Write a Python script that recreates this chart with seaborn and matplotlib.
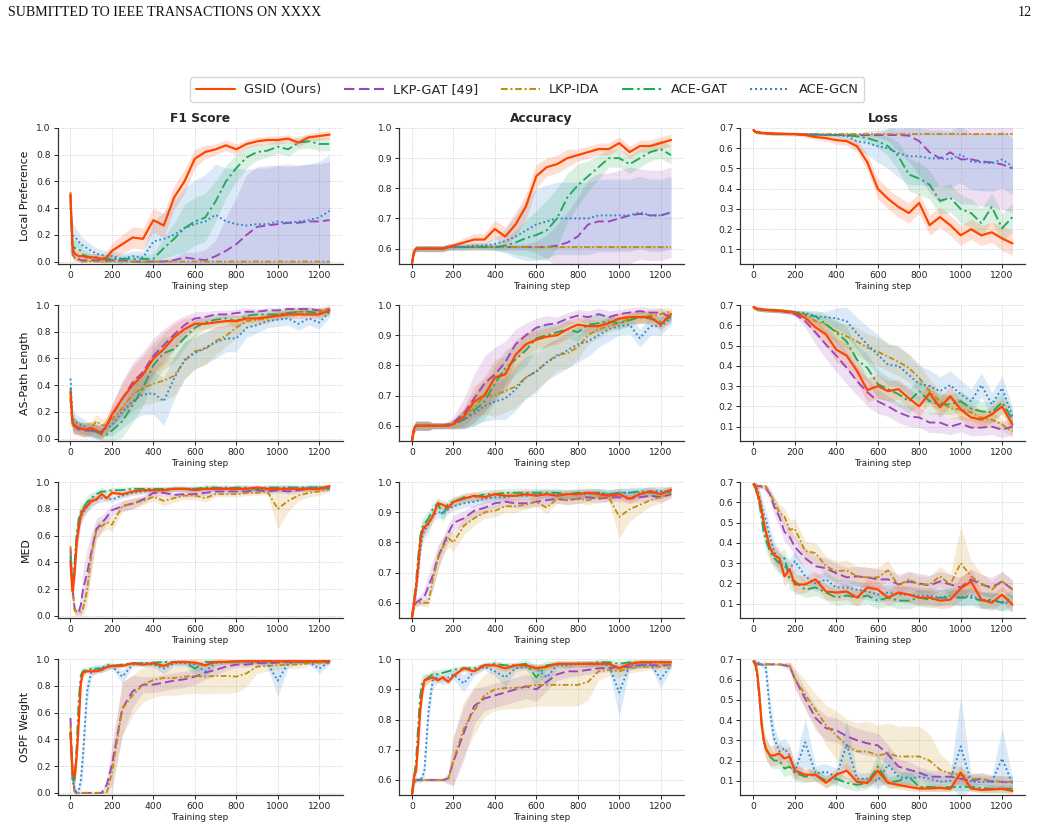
import matplotlib
matplotlib.use("Agg")
import matplotlib.pyplot as plt
import seaborn as sns
import pandas as pd
from matplotlib.lines import Line2D

# ---------------------------------------------------------------- data
STEPS = [0, 10, 20, 30, 40, 50, 60, 80, 100, 125, 150, 175, 200,
         250, 300, 350, 400, 450, 500, 550, 600, 650, 700, 750, 800,
         850, 900, 950, 1000, 1050, 1100, 1150, 1200, 1250]

METHODS = ["GSID (Ours)", "LKP-GAT [49]", "LKP-IDA", "ACE-GAT", "ACE-GCN"]
ROW_LABELS = ["Local Preference", "AS-Path Length", "MED", "OSPF Weight"]
COL_TITLES = ["F1 Score", "Accuracy", "Loss"]
X_TICKS = [0, 200, 400, 600, 800, 1000, 1200]
F1_TICKS = [0.0, 0.2, 0.4, 0.6, 0.8, 1.0]
ACC_TICKS = [0.6, 0.7, 0.8, 0.9, 1.0]
LOSS_TICKS = [0.1, 0.2, 0.3, 0.4, 0.5, 0.6, 0.7]
HEADER_LEFT = "SUBMITTED TO IEEE TRANSACTIONS ON XXXX"
HEADER_RIGHT = "12"
X_LABEL = "Training step"

# ---- Local Preference : F1
lp_f1_gsid = [0.50,0.10,0.06,0.05,0.04,0.04,0.04,0.03,0.03,0.03,0.02,0.03,0.08, 0.13,0.18,0.17,0.31,0.27,0.48,0.60,0.77,0.82,0.84,0.87,0.84,0.88,0.90,0.91,0.91,0.92,0.89,0.93,0.94,0.95]
lp_f1_gsid_sd = [0.03,0.04,0.04,0.04,0.04,0.03,0.03,0.03,0.03,0.03,0.03,0.04,0.06, 0.07,0.08,0.08,0.09,0.09,0.09,0.09,0.07,0.05,0.04,0.04,0.04,0.03,0.03,0.03,0.03,0.03,0.03,0.03,0.03,0.03]
lp_f1_lkpgat = [0.50,0.05,0.03,0.02,0.02,0.01,0.01,0.01,0.01,0.01,0.01,0.01,0.01, 0.01,0.00,0.00,0.00,0.00,0.01,0.03,0.02,0.01,0.04,0.08,0.13,0.20,0.26,0.27,0.28,0.29,0.29,0.30,0.30,0.31]
lp_f1_lkpgat_sd = [0.02,0.03,0.03,0.02,0.02,0.02,0.01,0.01,0.01,0.01,0.01,0.01,0.01, 0.01,0.01,0.01,0.01,0.01,0.02,0.04,0.05,0.08,0.12,0.25,0.35,0.45,0.45,0.45,0.44,0.44,0.43,0.43,0.43,0.44]
lp_f1_lkpida = [0.52,0.06,0.03,0.02,0.01,0.00,0.00,0.00,0.00,0.00,0.00,0.00,0.00, 0.00,0.00,0.00,0.00,0.00,0.00,0.00,0.00,0.00,0.00,0.00,0.00,0.00,0.00,0.00,0.00,0.00,0.00,0.00,0.00,0.00]
lp_f1_lkpida_sd = [0.02,0.03,0.02,0.01,0.01,0.005,0.005,0.005,0.005,0.005,0.005,0.005,0.005, 0.005,0.005,0.005,0.005,0.005,0.005,0.005,0.005,0.005,0.005,0.005,0.005,0.005,0.005,0.005,0.005,0.005,0.005,0.005,0.005,0.005]
lp_f1_acegat = [0.45,0.12,0.10,0.10,0.09,0.08,0.05,0.04,0.03,0.03,0.02,0.02,0.02, 0.02,0.02,0.02,0.02,0.10,0.17,0.25,0.30,0.33,0.45,0.60,0.70,0.78,0.82,0.83,0.86,0.84,0.89,0.90,0.88,0.88]
lp_f1_acegat_sd = [0.05,0.06,0.06,0.06,0.05,0.05,0.04,0.04,0.03,0.03,0.03,0.03,0.03, 0.03,0.03,0.03,0.04,0.08,0.12,0.18,0.18,0.18,0.15,0.12,0.10,0.08,0.06,0.05,0.05,0.05,0.05,0.05,0.05,0.05]
lp_f1_acegcn = [0.40,0.20,0.18,0.17,0.15,0.13,0.12,0.10,0.08,0.06,0.05,0.04,0.04, 0.02,0.04,0.03,0.15,0.17,0.20,0.25,0.28,0.30,0.35,0.30,0.28,0.27,0.28,0.28,0.30,0.29,0.30,0.31,0.33,0.38]
lp_f1_acegcn_sd = [0.06,0.08,0.08,0.07,0.07,0.06,0.06,0.05,0.05,0.04,0.04,0.04,0.04, 0.04,0.04,0.05,0.15,0.20,0.25,0.30,0.33,0.35,0.38,0.40,0.42,0.42,0.42,0.42,0.42,0.42,0.42,0.42,0.42,0.42]

# ---- Local Preference : Accuracy
lp_acc_gsid = [0.55,0.59,0.60,0.60,0.60,0.60,0.60,0.60,0.60,0.60,0.60,0.605,0.61, 0.62,0.63,0.63,0.665,0.64,0.68,0.74,0.84,0.87,0.88,0.90,0.91,0.92,0.93,0.93,0.95,0.92,0.94,0.94,0.95,0.96]
lp_acc_gsid_sd = [0.01,0.01,0.01,0.01,0.01,0.01,0.01,0.01,0.01,0.01,0.01,0.01,0.01, 0.015,0.02,0.02,0.03,0.03,0.04,0.04,0.04,0.03,0.03,0.03,0.02,0.02,0.02,0.02,0.02,0.02,0.02,0.02,0.02,0.02]
lp_acc_lkpgat = [0.55,0.59,0.60,0.60,0.60,0.60,0.60,0.60,0.60,0.60,0.60,0.605,0.605, 0.605,0.605,0.605,0.605,0.605,0.605,0.605,0.605,0.605,0.61,0.62,0.64,0.68,0.69,0.69,0.70,0.71,0.715,0.71,0.71,0.72]
lp_acc_lkpgat_sd = [0.01,0.01,0.01,0.01,0.01,0.01,0.01,0.01,0.01,0.01,0.01,0.01,0.01, 0.01,0.01,0.01,0.01,0.01,0.01,0.01,0.02,0.04,0.07,0.10,0.13,0.15,0.16,0.16,0.16,0.16,0.15,0.15,0.15,0.15]
lp_acc_lkpida = [0.55,0.59,0.60,0.60,0.60,0.60,0.60,0.60,0.60,0.60,0.60,0.605,0.605, 0.605,0.605,0.605,0.605,0.605,0.605,0.605,0.605,0.605,0.605,0.605,0.605,0.605,0.605,0.605,0.605,0.605,0.605,0.605,0.605,0.605]
lp_acc_lkpida_sd = [0.005,0.005,0.005,0.005,0.005,0.005,0.005,0.005,0.005,0.005,0.005,0.005,0.005, 0.005,0.005,0.005,0.005,0.005,0.005,0.005,0.005,0.005,0.005,0.005,0.005,0.005,0.005,0.005,0.005,0.005,0.005,0.005,0.005,0.005]
lp_acc_acegat = [0.55,0.59,0.60,0.60,0.60,0.60,0.60,0.60,0.60,0.60,0.60,0.605,0.605, 0.605,0.605,0.605,0.605,0.61,0.62,0.635,0.645,0.66,0.70,0.77,0.81,0.84,0.87,0.90,0.90,0.88,0.90,0.92,0.93,0.91]
lp_acc_acegat_sd = [0.01,0.01,0.01,0.01,0.01,0.01,0.01,0.01,0.01,0.01,0.01,0.01,0.01, 0.01,0.01,0.01,0.01,0.02,0.04,0.06,0.08,0.10,0.10,0.08,0.07,0.05,0.04,0.03,0.03,0.03,0.03,0.03,0.03,0.03]
lp_acc_acegcn = [0.55,0.59,0.60,0.60,0.60,0.60,0.60,0.60,0.60,0.60,0.60,0.605,0.605, 0.605,0.61,0.61,0.615,0.625,0.64,0.66,0.68,0.69,0.70,0.70,0.70,0.70,0.71,0.71,0.71,0.71,0.72,0.71,0.71,0.72]
lp_acc_acegcn_sd = [0.01,0.01,0.01,0.01,0.01,0.01,0.01,0.01,0.01,0.01,0.01,0.01,0.01, 0.01,0.01,0.01,0.02,0.04,0.07,0.10,0.12,0.12,0.12,0.12,0.12,0.12,0.12,0.12,0.12,0.12,0.12,0.12,0.12,0.12]

# ---- Local Preference : Loss
lp_loss_gsid = [0.69,0.68,0.68,0.678,0.676,0.675,0.675,0.674,0.673,0.672,0.671,0.67,0.67, 0.665,0.655,0.65,0.64,0.635,0.61,0.53,0.40,0.35,0.31,0.28,0.33,0.22,0.26,0.22,0.17,0.20,0.17,0.185,0.155,0.13]
lp_loss_gsid_sd = [0.01,0.01,0.01,0.01,0.01,0.01,0.01,0.01,0.01,0.01,0.01,0.01,0.01, 0.01,0.015,0.015,0.02,0.02,0.03,0.04,0.05,0.05,0.05,0.05,0.05,0.05,0.05,0.05,0.05,0.05,0.05,0.05,0.06,0.06]
lp_loss_lkpgat = [0.69,0.68,0.678,0.676,0.675,0.674,0.673,0.672,0.671,0.67,0.67,0.67,0.67, 0.668,0.667,0.666,0.665,0.665,0.665,0.665,0.665,0.665,0.665,0.662,0.635,0.58,0.55,0.58,0.545,0.545,0.535,0.53,0.52,0.50]
lp_loss_lkpgat_sd = [0.005,0.005,0.005,0.005,0.005,0.005,0.005,0.005,0.005,0.005,0.005,0.005,0.005, 0.005,0.005,0.005,0.005,0.005,0.005,0.005,0.01,0.03,0.08,0.13,0.17,0.20,0.22,0.22,0.22,0.22,0.22,0.22,0.22,0.22]
lp_loss_lkpida = [0.69,0.68,0.678,0.676,0.675,0.674,0.673,0.672,0.671,0.67,0.67,0.67,0.67, 0.67,0.67,0.67,0.67,0.67,0.67,0.67,0.67,0.67,0.67,0.67,0.67,0.67,0.67,0.67,0.67,0.67,0.67,0.67,0.67,0.67]
lp_loss_lkpida_sd = [0.004,0.004,0.004,0.004,0.004,0.004,0.004,0.004,0.004,0.004,0.004,0.004,0.004, 0.004,0.004,0.004,0.004,0.004,0.004,0.004,0.004,0.004,0.004,0.004,0.004,0.004,0.004,0.004,0.004,0.004,0.004,0.004,0.004,0.004]
lp_loss_acegat = [0.69,0.68,0.678,0.676,0.675,0.674,0.673,0.672,0.671,0.67,0.67,0.67,0.67, 0.668,0.667,0.666,0.665,0.663,0.659,0.65,0.634,0.61,0.56,0.47,0.45,0.42,0.34,0.355,0.30,0.28,0.23,0.31,0.205,0.26]
lp_loss_acegat_sd = [0.005,0.005,0.005,0.005,0.005,0.005,0.005,0.005,0.005,0.005,0.005,0.005,0.005, 0.005,0.005,0.005,0.005,0.005,0.01,0.02,0.03,0.05,0.07,0.08,0.08,0.07,0.07,0.07,0.07,0.07,0.07,0.07,0.07,0.07]
lp_loss_acegcn = [0.69,0.68,0.678,0.676,0.675,0.674,0.673,0.672,0.671,0.67,0.67,0.67,0.67, 0.668,0.667,0.666,0.665,0.66,0.634,0.626,0.61,0.60,0.575,0.56,0.56,0.55,0.55,0.545,0.57,0.535,0.53,0.525,0.545,0.51]
lp_loss_acegcn_sd = [0.005,0.005,0.005,0.005,0.005,0.005,0.005,0.005,0.005,0.005,0.005,0.005,0.005, 0.005,0.005,0.005,0.01,0.02,0.04,0.06,0.08,0.10,0.12,0.14,0.14,0.14,0.14,0.14,0.14,0.14,0.14,0.14,0.14,0.14]

# ---- AS-Path Length : F1
asp_f1_gsid = [0.35,0.12,0.10,0.09,0.08,0.08,0.07,0.07,0.08,0.06,0.04,0.10,0.18, 0.30,0.40,0.48,0.60,0.67,0.76,0.82,0.86,0.86,0.87,0.88,0.88,0.90,0.90,0.91,0.92,0.93,0.93,0.93,0.93,0.96]
asp_f1_gsid_sd = [0.05,0.06,0.06,0.05,0.05,0.05,0.05,0.05,0.05,0.05,0.05,0.06,0.08, 0.12,0.14,0.14,0.12,0.12,0.10,0.08,0.05,0.04,0.04,0.04,0.04,0.03,0.03,0.03,0.03,0.03,0.03,0.03,0.03,0.03]
asp_f1_lkpgat = [0.30,0.10,0.09,0.08,0.07,0.07,0.06,0.06,0.06,0.05,0.05,0.10,0.17, 0.30,0.42,0.50,0.62,0.70,0.78,0.85,0.90,0.91,0.93,0.93,0.94,0.95,0.95,0.96,0.96,0.97,0.97,0.97,0.96,0.97]
asp_f1_lkpgat_sd = [0.05,0.06,0.06,0.05,0.05,0.05,0.05,0.05,0.05,0.05,0.05,0.06,0.08, 0.13,0.15,0.15,0.13,0.12,0.10,0.07,0.05,0.04,0.03,0.03,0.03,0.03,0.02,0.02,0.02,0.02,0.02,0.02,0.02,0.02]
asp_f1_lkpida = [0.30,0.10,0.09,0.08,0.08,0.07,0.07,0.07,0.08,0.13,0.10,0.10,0.14, 0.23,0.33,0.38,0.41,0.435,0.47,0.58,0.655,0.67,0.73,0.77,0.83,0.88,0.89,0.90,0.93,0.94,0.95,0.95,0.95,0.97]
asp_f1_lkpida_sd = [0.05,0.06,0.06,0.05,0.05,0.05,0.05,0.05,0.05,0.05,0.05,0.06,0.08, 0.10,0.12,0.13,0.14,0.15,0.15,0.14,0.13,0.12,0.10,0.08,0.07,0.05,0.04,0.04,0.03,0.03,0.03,0.03,0.03,0.03]
asp_f1_acegat = [0.38,0.12,0.10,0.09,0.08,0.08,0.07,0.07,0.06,0.05,0.03,0.03,0.06, 0.13,0.25,0.38,0.55,0.64,0.67,0.755,0.83,0.87,0.89,0.90,0.88,0.92,0.93,0.93,0.93,0.94,0.95,0.95,0.94,0.95]
asp_f1_acegat_sd = [0.05,0.06,0.06,0.05,0.05,0.05,0.05,0.05,0.05,0.05,0.05,0.06,0.08, 0.12,0.13,0.13,0.13,0.12,0.10,0.08,0.06,0.05,0.04,0.04,0.04,0.03,0.03,0.03,0.03,0.03,0.03,0.03,0.03,0.03]
asp_f1_acegcn = [0.45,0.15,0.13,0.12,0.11,0.10,0.10,0.08,0.07,0.06,0.06,0.08,0.10, 0.20,0.28,0.33,0.34,0.28,0.45,0.59,0.64,0.68,0.72,0.75,0.75,0.83,0.85,0.88,0.89,0.90,0.86,0.90,0.87,0.95]
asp_f1_acegcn_sd = [0.06,0.07,0.07,0.06,0.06,0.06,0.05,0.05,0.05,0.05,0.05,0.06,0.08, 0.12,0.14,0.15,0.16,0.18,0.16,0.14,0.12,0.12,0.12,0.10,0.10,0.07,0.06,0.05,0.05,0.05,0.05,0.05,0.05,0.04]

# ---- AS-Path Length : Accuracy
asp_acc_gsid = [0.55,0.59,0.60,0.60,0.60,0.60,0.60,0.60,0.60,0.60,0.60,0.60,0.605, 0.63,0.68,0.70,0.76,0.77,0.835,0.87,0.885,0.895,0.90,0.92,0.935,0.93,0.93,0.94,0.955,0.96,0.96,0.96,0.935,0.97]
asp_acc_gsid_sd = [0.015,0.015,0.015,0.015,0.015,0.015,0.015,0.015,0.01,0.01,0.01,0.01,0.015, 0.03,0.05,0.06,0.06,0.06,0.05,0.04,0.03,0.03,0.03,0.03,0.025,0.025,0.02,0.02,0.02,0.02,0.02,0.02,0.02,0.02]
asp_acc_lkpgat = [0.55,0.59,0.60,0.60,0.60,0.60,0.60,0.60,0.60,0.60,0.60,0.605,0.61, 0.64,0.69,0.74,0.77,0.81,0.87,0.90,0.925,0.935,0.94,0.955,0.965,0.96,0.97,0.96,0.97,0.975,0.98,0.975,0.975,0.96]
asp_acc_lkpgat_sd = [0.015,0.015,0.015,0.015,0.015,0.015,0.015,0.015,0.01,0.01,0.01,0.01,0.02, 0.05,0.08,0.09,0.09,0.07,0.05,0.04,0.03,0.03,0.02,0.02,0.02,0.02,0.02,0.02,0.015,0.015,0.015,0.015,0.015,0.015]
asp_acc_lkpida = [0.55,0.59,0.60,0.60,0.60,0.60,0.60,0.60,0.60,0.60,0.60,0.60,0.605, 0.625,0.66,0.70,0.70,0.715,0.73,0.76,0.78,0.81,0.835,0.84,0.86,0.90,0.92,0.93,0.94,0.955,0.96,0.965,0.97,0.98]
asp_acc_lkpida_sd = [0.015,0.015,0.015,0.015,0.015,0.015,0.015,0.015,0.01,0.01,0.01,0.01,0.015, 0.03,0.05,0.06,0.07,0.07,0.07,0.07,0.06,0.06,0.05,0.05,0.04,0.03,0.03,0.02,0.02,0.02,0.02,0.02,0.02,0.01]
asp_acc_acegat = [0.55,0.59,0.60,0.60,0.60,0.60,0.60,0.60,0.60,0.60,0.60,0.60,0.605, 0.62,0.65,0.68,0.74,0.79,0.82,0.85,0.89,0.90,0.91,0.92,0.91,0.935,0.94,0.945,0.94,0.95,0.96,0.955,0.945,0.96]
asp_acc_acegat_sd = [0.015,0.015,0.015,0.015,0.015,0.015,0.015,0.015,0.01,0.01,0.01,0.01,0.015, 0.03,0.05,0.06,0.06,0.06,0.05,0.05,0.04,0.04,0.03,0.03,0.03,0.03,0.03,0.02,0.02,0.02,0.02,0.02,0.02,0.02]
asp_acc_acegcn = [0.55,0.59,0.60,0.60,0.60,0.60,0.60,0.60,0.60,0.60,0.60,0.60,0.605, 0.62,0.64,0.665,0.68,0.69,0.72,0.76,0.78,0.81,0.83,0.85,0.87,0.88,0.90,0.92,0.93,0.935,0.89,0.93,0.93,0.955]
asp_acc_acegcn_sd = [0.015,0.015,0.015,0.015,0.015,0.015,0.015,0.015,0.01,0.01,0.01,0.01,0.015, 0.03,0.04,0.05,0.06,0.07,0.07,0.07,0.07,0.06,0.06,0.06,0.06,0.05,0.04,0.04,0.03,0.03,0.03,0.03,0.03,0.02]

# ---- AS-Path Length : Loss
asp_loss_gsid = [0.69,0.685,0.68,0.68,0.678,0.677,0.676,0.675,0.674,0.672,0.67,0.667,0.662, 0.637,0.59,0.555,0.48,0.45,0.375,0.28,0.30,0.275,0.285,0.24,0.20,0.265,0.195,0.25,0.185,0.145,0.135,0.16,0.20,0.11]
asp_loss_gsid_sd = [0.01,0.01,0.01,0.01,0.01,0.01,0.01,0.01,0.01,0.01,0.01,0.01,0.01, 0.02,0.04,0.05,0.06,0.06,0.06,0.06,0.06,0.05,0.05,0.05,0.05,0.05,0.05,0.05,0.05,0.05,0.04,0.04,0.04,0.04]
asp_loss_lkpgat = [0.69,0.685,0.68,0.68,0.678,0.677,0.676,0.675,0.674,0.672,0.668,0.662,0.655, 0.62,0.565,0.505,0.45,0.39,0.325,0.27,0.225,0.20,0.17,0.15,0.145,0.12,0.12,0.10,0.115,0.095,0.095,0.10,0.085,0.10]
asp_loss_lkpgat_sd = [0.01,0.01,0.01,0.01,0.01,0.01,0.01,0.01,0.01,0.01,0.01,0.01,0.01, 0.03,0.06,0.07,0.08,0.08,0.07,0.07,0.06,0.05,0.05,0.05,0.05,0.05,0.05,0.04,0.04,0.04,0.04,0.04,0.04,0.04]
asp_loss_lkpida = [0.69,0.685,0.68,0.68,0.678,0.677,0.676,0.675,0.674,0.672,0.67,0.667,0.665, 0.655,0.62,0.605,0.57,0.545,0.52,0.49,0.47,0.445,0.42,0.39,0.34,0.275,0.225,0.19,0.185,0.17,0.145,0.135,0.11,0.075]
asp_loss_lkpida_sd = [0.01,0.01,0.01,0.01,0.01,0.01,0.01,0.01,0.01,0.01,0.01,0.01,0.01, 0.02,0.03,0.04,0.05,0.06,0.07,0.07,0.07,0.07,0.07,0.07,0.07,0.06,0.05,0.05,0.05,0.04,0.04,0.04,0.03,0.03]
asp_loss_acegat = [0.69,0.685,0.68,0.68,0.678,0.677,0.676,0.675,0.674,0.672,0.67,0.668,0.665, 0.65,0.645,0.605,0.565,0.52,0.43,0.39,0.31,0.285,0.26,0.225,0.275,0.225,0.21,0.21,0.225,0.19,0.175,0.17,0.22,0.135]
asp_loss_acegat_sd = [0.01,0.01,0.01,0.01,0.01,0.01,0.01,0.01,0.01,0.01,0.01,0.01,0.01, 0.02,0.03,0.05,0.06,0.07,0.07,0.07,0.07,0.06,0.06,0.06,0.06,0.06,0.05,0.05,0.05,0.05,0.05,0.05,0.05,0.05]
asp_loss_acegcn = [0.69,0.685,0.68,0.68,0.678,0.677,0.676,0.675,0.674,0.672,0.67,0.668,0.665, 0.66,0.645,0.64,0.635,0.62,0.56,0.505,0.455,0.405,0.40,0.355,0.31,0.30,0.275,0.305,0.26,0.225,0.305,0.21,0.29,0.15]
asp_loss_acegcn_sd = [0.01,0.01,0.01,0.01,0.01,0.01,0.01,0.01,0.01,0.01,0.01,0.01,0.01, 0.01,0.02,0.03,0.05,0.07,0.08,0.09,0.10,0.10,0.10,0.10,0.09,0.08,0.07,0.07,0.07,0.06,0.06,0.06,0.06,0.05]

# ---- MED : F1
med_f1_gsid = [0.40,0.18,0.32,0.55,0.66,0.75,0.79,0.82,0.86,0.87,0.91,0.88,0.92, 0.91,0.93,0.94,0.94,0.94,0.95,0.95,0.94,0.95,0.95,0.95,0.95,0.95,0.96,0.95,0.95,0.95,0.95,0.95,0.95,0.97]
med_f1_gsid_sd = [0.05,0.08,0.10,0.10,0.08,0.06,0.05,0.04,0.04,0.03,0.03,0.03,0.02, 0.02,0.02,0.02,0.02,0.02,0.02,0.02,0.02,0.02,0.02,0.02,0.02,0.02,0.02,0.02,0.02,0.02,0.02,0.02,0.02,0.02]
med_f1_lkpgat = [0.50,0.20,0.05,0.02,0.03,0.08,0.19,0.32,0.47,0.65,0.69,0.74,0.79, 0.82,0.84,0.87,0.92,0.92,0.905,0.91,0.91,0.92,0.93,0.93,0.93,0.93,0.94,0.93,0.94,0.93,0.94,0.95,0.95,0.96]
med_f1_lkpgat_sd = [0.03,0.05,0.04,0.02,0.03,0.08,0.15,0.18,0.15,0.08,0.06,0.05,0.04, 0.04,0.04,0.03,0.03,0.02,0.02,0.02,0.02,0.02,0.02,0.02,0.02,0.02,0.02,0.02,0.02,0.02,0.02,0.02,0.02,0.02]
med_f1_lkpida = [0.52,0.20,0.04,0.03,0.03,0.03,0.05,0.19,0.45,0.64,0.67,0.70,0.68, 0.82,0.84,0.86,0.89,0.86,0.88,0.90,0.90,0.88,0.91,0.91,0.91,0.92,0.92,0.93,0.80,0.86,0.90,0.92,0.93,0.95]
med_f1_lkpida_sd = [0.03,0.05,0.04,0.02,0.02,0.03,0.06,0.12,0.12,0.06,0.05,0.05,0.05, 0.04,0.04,0.03,0.03,0.04,0.03,0.03,0.03,0.03,0.02,0.02,0.02,0.02,0.02,0.02,0.15,0.08,0.04,0.03,0.03,0.02]
med_f1_acegat = [0.45,0.20,0.40,0.62,0.72,0.78,0.80,0.85,0.88,0.91,0.93,0.93,0.94, 0.94,0.95,0.95,0.95,0.95,0.95,0.95,0.95,0.96,0.96,0.95,0.96,0.96,0.95,0.96,0.96,0.96,0.96,0.96,0.96,0.96]
med_f1_acegat_sd = [0.05,0.08,0.10,0.10,0.08,0.06,0.05,0.05,0.04,0.03,0.03,0.02,0.02, 0.02,0.02,0.02,0.02,0.02,0.02,0.02,0.02,0.02,0.02,0.02,0.02,0.02,0.02,0.02,0.02,0.02,0.02,0.02,0.02,0.02]
med_f1_acegcn = [0.42,0.20,0.38,0.58,0.68,0.74,0.77,0.82,0.85,0.87,0.88,0.88,0.87, 0.90,0.92,0.93,0.94,0.94,0.95,0.95,0.95,0.95,0.95,0.96,0.95,0.95,0.95,0.95,0.95,0.96,0.95,0.96,0.96,0.95]
med_f1_acegcn_sd = [0.05,0.08,0.10,0.10,0.08,0.06,0.05,0.05,0.04,0.03,0.03,0.02,0.02, 0.02,0.02,0.02,0.02,0.02,0.02,0.02,0.02,0.02,0.02,0.02,0.02,0.02,0.02,0.02,0.02,0.02,0.02,0.02,0.02,0.02]

# ---- MED : Accuracy
med_acc_gsid = [0.55,0.60,0.65,0.72,0.80,0.84,0.85,0.865,0.885,0.93,0.925,0.915,0.935, 0.945,0.955,0.95,0.96,0.955,0.955,0.96,0.955,0.96,0.955,0.96,0.96,0.965,0.96,0.955,0.96,0.945,0.96,0.97,0.96,0.975]
med_acc_gsid_sd = [0.01,0.02,0.03,0.03,0.03,0.03,0.025,0.02,0.02,0.015,0.015,0.015,0.015, 0.015,0.015,0.015,0.015,0.015,0.015,0.015,0.015,0.015,0.015,0.015,0.015,0.015,0.015,0.015,0.015,0.015,0.015,0.015,0.015,0.015]
med_acc_lkpgat = [0.55,0.59,0.60,0.605,0.61,0.615,0.62,0.655,0.69,0.75,0.79,0.83,0.865, 0.88,0.905,0.915,0.93,0.935,0.93,0.93,0.935,0.94,0.945,0.94,0.945,0.95,0.945,0.95,0.95,0.945,0.95,0.955,0.95,0.96]
med_acc_lkpgat_sd = [0.01,0.015,0.015,0.015,0.015,0.02,0.03,0.04,0.05,0.04,0.03,0.03,0.025, 0.025,0.02,0.02,0.015,0.015,0.015,0.015,0.015,0.015,0.015,0.015,0.015,0.015,0.015,0.015,0.015,0.015,0.015,0.015,0.015,0.015]
med_acc_lkpida = [0.55,0.60,0.60,0.60,0.60,0.60,0.60,0.60,0.675,0.745,0.785,0.815,0.80, 0.855,0.88,0.90,0.905,0.92,0.92,0.925,0.935,0.915,0.945,0.94,0.945,0.94,0.95,0.95,0.885,0.91,0.925,0.94,0.95,0.965]
med_acc_lkpida_sd = [0.01,0.01,0.01,0.01,0.01,0.01,0.01,0.015,0.03,0.04,0.03,0.03,0.03, 0.03,0.025,0.02,0.02,0.02,0.02,0.015,0.015,0.02,0.015,0.015,0.015,0.015,0.015,0.015,0.07,0.04,0.03,0.02,0.02,0.015]
med_acc_acegat = [0.55,0.61,0.67,0.75,0.82,0.85,0.86,0.88,0.91,0.93,0.89,0.93,0.935, 0.95,0.95,0.96,0.96,0.965,0.965,0.965,0.965,0.965,0.965,0.96,0.965,0.965,0.965,0.96,0.965,0.965,0.97,0.965,0.965,0.97]
med_acc_acegat_sd = [0.01,0.02,0.03,0.03,0.03,0.03,0.03,0.025,0.02,0.02,0.025,0.015,0.015, 0.015,0.015,0.015,0.015,0.015,0.015,0.015,0.015,0.015,0.015,0.015,0.015,0.015,0.015,0.015,0.015,0.015,0.015,0.015,0.015,0.015]
med_acc_acegcn = [0.55,0.60,0.64,0.70,0.77,0.82,0.84,0.86,0.89,0.90,0.90,0.91,0.92, 0.93,0.935,0.945,0.95,0.95,0.955,0.955,0.96,0.96,0.96,0.96,0.96,0.96,0.965,0.96,0.965,0.965,0.965,0.97,0.97,0.97]
med_acc_acegcn_sd = [0.01,0.02,0.03,0.03,0.03,0.03,0.03,0.025,0.02,0.02,0.02,0.015,0.015, 0.015,0.015,0.015,0.015,0.015,0.015,0.015,0.015,0.015,0.015,0.015,0.015,0.015,0.015,0.015,0.015,0.015,0.015,0.015,0.015,0.015]

# ---- MED : Loss
med_loss_gsid = [0.69,0.68,0.64,0.61,0.56,0.50,0.455,0.375,0.34,0.325,0.235,0.27,0.195, 0.195,0.22,0.16,0.155,0.16,0.13,0.18,0.17,0.13,0.155,0.145,0.13,0.13,0.115,0.12,0.175,0.21,0.12,0.105,0.145,0.095]
med_loss_gsid_sd = [0.01,0.02,0.04,0.05,0.05,0.05,0.05,0.05,0.05,0.05,0.05,0.05,0.05, 0.04,0.04,0.04,0.04,0.04,0.04,0.04,0.04,0.04,0.04,0.04,0.04,0.04,0.04,0.04,0.06,0.06,0.04,0.04,0.04,0.04]
med_loss_lkpgat = [0.69,0.685,0.68,0.68,0.68,0.675,0.67,0.64,0.58,0.53,0.455,0.43,0.38, 0.325,0.285,0.275,0.25,0.23,0.235,0.23,0.22,0.22,0.195,0.21,0.20,0.19,0.21,0.195,0.18,0.22,0.195,0.18,0.21,0.17]
med_loss_lkpgat_sd = [0.01,0.01,0.01,0.01,0.01,0.01,0.02,0.03,0.04,0.05,0.05,0.05,0.05, 0.05,0.05,0.05,0.05,0.05,0.05,0.05,0.05,0.05,0.05,0.05,0.05,0.05,0.05,0.05,0.05,0.05,0.05,0.05,0.05,0.05]
med_loss_lkpida = [0.69,0.685,0.68,0.68,0.675,0.675,0.68,0.645,0.605,0.55,0.53,0.465,0.47, 0.36,0.35,0.285,0.26,0.265,0.235,0.23,0.23,0.265,0.19,0.22,0.195,0.195,0.235,0.195,0.30,0.235,0.20,0.17,0.21,0.17]
med_loss_lkpida_sd = [0.01,0.01,0.01,0.01,0.01,0.01,0.01,0.02,0.03,0.04,0.04,0.05,0.05, 0.05,0.05,0.05,0.05,0.05,0.05,0.05,0.05,0.05,0.04,0.04,0.04,0.04,0.05,0.05,0.18,0.08,0.05,0.04,0.05,0.04]
med_loss_acegat = [0.69,0.67,0.63,0.59,0.52,0.45,0.415,0.36,0.325,0.30,0.325,0.22,0.21, 0.17,0.18,0.155,0.13,0.14,0.13,0.14,0.115,0.13,0.115,0.115,0.13,0.12,0.13,0.13,0.13,0.13,0.115,0.12,0.105,0.13]
med_loss_acegat_sd = [0.01,0.02,0.04,0.05,0.05,0.05,0.05,0.05,0.05,0.05,0.05,0.05,0.05, 0.04,0.04,0.04,0.04,0.04,0.04,0.04,0.04,0.04,0.04,0.04,0.04,0.04,0.04,0.04,0.04,0.04,0.04,0.04,0.04,0.04]
med_loss_acegcn = [0.69,0.68,0.66,0.62,0.58,0.54,0.515,0.43,0.36,0.30,0.285,0.27,0.31, 0.235,0.20,0.22,0.18,0.18,0.17,0.16,0.145,0.155,0.145,0.145,0.14,0.14,0.13,0.14,0.13,0.14,0.12,0.115,0.105,0.105]
med_loss_acegcn_sd = [0.01,0.02,0.03,0.04,0.05,0.05,0.05,0.05,0.05,0.05,0.05,0.05,0.05, 0.04,0.04,0.04,0.04,0.04,0.04,0.04,0.04,0.04,0.04,0.04,0.04,0.04,0.04,0.04,0.04,0.04,0.04,0.04,0.04,0.04]

# ---- OSPF Weight : F1
ospf_f1_gsid = [0.45,0.16,0.12,0.28,0.53,0.82,0.90,0.91,0.91,0.91,0.92,0.94,0.95, 0.95,0.97,0.96,0.97,0.95,0.98,0.98,0.975,0.955,0.98,0.98,0.985,0.985,0.985,0.985,0.985,0.985,0.985,0.985,0.985,0.985]
ospf_f1_gsid_sd = [0.05,0.06,0.08,0.12,0.12,0.06,0.03,0.02,0.02,0.02,0.02,0.02,0.02, 0.015,0.015,0.015,0.015,0.015,0.015,0.015,0.015,0.015,0.015,0.015,0.015,0.015,0.015,0.015,0.015,0.015,0.015,0.015,0.015,0.015]
ospf_f1_lkpgat = [0.56,0.12,0.01,0.00,0.00,0.00,0.00,0.00,0.00,0.00,0.00,0.06,0.21, 0.63,0.76,0.81,0.81,0.825,0.84,0.85,0.87,0.90,0.92,0.945,0.96,0.96,0.97,0.97,0.975,0.98,0.98,0.98,0.98,0.98]
ospf_f1_lkpgat_sd = [0.03,0.05,0.01,0.005,0.005,0.005,0.005,0.005,0.005,0.005,0.005,0.05,0.15, 0.20,0.12,0.06,0.06,0.06,0.06,0.06,0.06,0.05,0.04,0.03,0.02,0.02,0.015,0.015,0.015,0.015,0.015,0.015,0.015,0.015]
ospf_f1_lkpida = [0.50,0.10,0.01,0.00,0.00,0.00,0.00,0.00,0.00,0.00,0.00,0.00,0.15, 0.63,0.73,0.81,0.845,0.86,0.86,0.87,0.875,0.87,0.875,0.875,0.87,0.895,0.945,0.95,0.955,0.96,0.96,0.97,0.975,0.98]
ospf_f1_lkpida_sd = [0.03,0.05,0.01,0.005,0.005,0.005,0.005,0.005,0.005,0.005,0.005,0.005,0.15, 0.20,0.15,0.13,0.13,0.13,0.13,0.13,0.13,0.13,0.13,0.13,0.12,0.10,0.05,0.04,0.03,0.03,0.03,0.02,0.02,0.015]
ospf_f1_acegat = [0.45,0.15,0.08,0.35,0.70,0.88,0.91,0.92,0.93,0.93,0.93,0.96,0.95, 0.96,0.97,0.97,0.975,0.98,0.98,0.98,0.93,0.98,0.98,0.98,0.985,0.985,0.985,0.985,0.985,0.985,0.985,0.985,0.985,0.985]
ospf_f1_acegat_sd = [0.05,0.06,0.08,0.12,0.10,0.05,0.03,0.02,0.02,0.02,0.02,0.02,0.02, 0.015,0.015,0.015,0.015,0.015,0.015,0.015,0.05,0.015,0.015,0.015,0.015,0.015,0.015,0.015,0.015,0.015,0.015,0.015,0.015,0.015]
ospf_f1_acegcn = [0.45,0.10,0.02,0.01,0.02,0.10,0.28,0.76,0.90,0.93,0.93,0.94,0.95, 0.87,0.96,0.97,0.96,0.93,0.97,0.97,0.96,0.91,0.97,0.98,0.98,0.98,0.98,0.97,0.84,0.97,0.98,0.98,0.93,0.98]
ospf_f1_acegcn_sd = [0.06,0.06,0.04,0.02,0.03,0.08,0.15,0.10,0.04,0.03,0.03,0.03,0.02, 0.05,0.02,0.02,0.02,0.04,0.02,0.02,0.03,0.05,0.02,0.015,0.015,0.015,0.015,0.03,0.12,0.03,0.015,0.015,0.04,0.015]

# ---- OSPF Weight : Accuracy
ospf_acc_gsid = [0.55,0.61,0.63,0.72,0.83,0.89,0.93,0.935,0.94,0.93,0.94,0.925,0.945, 0.97,0.96,0.98,0.98,0.97,0.98,0.98,0.97,0.975,0.985,0.985,0.985,0.985,0.985,0.985,0.97,0.985,0.99,0.99,0.99,0.99]
ospf_acc_gsid_sd = [0.01,0.02,0.03,0.04,0.04,0.03,0.02,0.015,0.01,0.01,0.01,0.01,0.01, 0.01,0.01,0.01,0.01,0.01,0.01,0.01,0.01,0.01,0.01,0.01,0.01,0.01,0.01,0.01,0.01,0.01,0.01,0.01,0.01,0.01]
ospf_acc_lkpgat = [0.55,0.59,0.60,0.60,0.60,0.60,0.60,0.60,0.60,0.60,0.60,0.605,0.66, 0.755,0.845,0.87,0.88,0.89,0.90,0.91,0.90,0.925,0.95,0.96,0.96,0.965,0.97,0.97,0.975,0.975,0.98,0.98,0.98,0.98]
ospf_acc_lkpgat_sd = [0.01,0.01,0.005,0.005,0.005,0.005,0.005,0.005,0.005,0.005,0.005,0.02,0.08, 0.09,0.06,0.04,0.04,0.04,0.04,0.04,0.04,0.03,0.02,0.02,0.015,0.015,0.015,0.01,0.01,0.01,0.01,0.01,0.01,0.01]
ospf_acc_lkpida = [0.55,0.59,0.60,0.60,0.60,0.60,0.60,0.60,0.60,0.60,0.60,0.60,0.665, 0.77,0.83,0.88,0.90,0.905,0.905,0.91,0.915,0.915,0.915,0.915,0.915,0.925,0.96,0.965,0.96,0.97,0.975,0.975,0.975,0.98]
ospf_acc_lkpida_sd = [0.01,0.01,0.005,0.005,0.005,0.005,0.005,0.005,0.005,0.005,0.005,0.01,0.08, 0.09,0.08,0.07,0.07,0.07,0.07,0.07,0.07,0.07,0.07,0.07,0.07,0.06,0.03,0.02,0.02,0.015,0.015,0.01,0.01,0.01]
ospf_acc_acegat = [0.55,0.61,0.66,0.78,0.88,0.92,0.93,0.94,0.95,0.95,0.955,0.96,0.965, 0.97,0.97,0.98,0.985,0.98,0.98,0.985,0.94,0.98,0.985,0.985,0.985,0.985,0.99,0.99,0.985,0.99,0.99,0.99,0.99,0.99]
ospf_acc_acegat_sd = [0.01,0.02,0.03,0.04,0.04,0.03,0.02,0.015,0.015,0.015,0.015,0.01,0.01, 0.01,0.01,0.01,0.01,0.01,0.01,0.015,0.04,0.015,0.01,0.01,0.01,0.01,0.01,0.01,0.01,0.01,0.01,0.01,0.01,0.01]
ospf_acc_acegcn = [0.55,0.60,0.60,0.60,0.60,0.61,0.63,0.83,0.93,0.94,0.93,0.94,0.95, 0.92,0.96,0.975,0.96,0.94,0.97,0.975,0.97,0.94,0.98,0.98,0.985,0.985,0.985,0.98,0.89,0.98,0.98,0.985,0.935,0.98]
ospf_acc_acegcn_sd = [0.01,0.01,0.01,0.01,0.01,0.015,0.03,0.05,0.03,0.015,0.015,0.015,0.015, 0.03,0.015,0.01,0.015,0.03,0.01,0.01,0.015,0.03,0.01,0.01,0.01,0.01,0.01,0.015,0.08,0.015,0.01,0.01,0.03,0.01]

# ---- OSPF Weight : Loss
ospf_loss_gsid = [0.69,0.68,0.62,0.51,0.375,0.30,0.26,0.225,0.225,0.235,0.21,0.22,0.15, 0.13,0.13,0.09,0.13,0.15,0.095,0.09,0.15,0.09,0.08,0.07,0.062,0.062,0.065,0.06,0.14,0.062,0.055,0.057,0.06,0.05]
ospf_loss_gsid_sd = [0.01,0.02,0.04,0.05,0.05,0.05,0.05,0.05,0.05,0.05,0.05,0.05,0.04, 0.03,0.03,0.03,0.03,0.04,0.03,0.02,0.04,0.02,0.02,0.02,0.015,0.015,0.015,0.015,0.04,0.015,0.015,0.015,0.015,0.015]
ospf_loss_lkpgat = [0.69,0.68,0.675,0.675,0.675,0.675,0.675,0.675,0.675,0.675,0.67,0.665,0.605, 0.505,0.41,0.36,0.35,0.32,0.30,0.285,0.275,0.23,0.17,0.155,0.14,0.12,0.12,0.12,0.11,0.10,0.11,0.095,0.095,0.09]
ospf_loss_lkpgat_sd = [0.005,0.005,0.005,0.005,0.005,0.005,0.005,0.005,0.005,0.005,0.01,0.02,0.04, 0.05,0.06,0.06,0.06,0.06,0.06,0.06,0.06,0.05,0.04,0.04,0.03,0.03,0.03,0.03,0.03,0.03,0.03,0.03,0.03,0.03]
ospf_loss_lkpida = [0.69,0.68,0.675,0.675,0.675,0.675,0.675,0.675,0.675,0.675,0.675,0.67,0.605, 0.525,0.45,0.375,0.325,0.275,0.245,0.245,0.225,0.235,0.22,0.22,0.22,0.20,0.155,0.135,0.13,0.11,0.11,0.10,0.095,0.095]
ospf_loss_lkpida_sd = [0.005,0.005,0.005,0.005,0.005,0.005,0.005,0.005,0.005,0.005,0.005,0.02,0.05, 0.07,0.08,0.10,0.12,0.13,0.14,0.15,0.15,0.15,0.15,0.15,0.15,0.13,0.08,0.05,0.04,0.03,0.03,0.03,0.03,0.03]
ospf_loss_acegat = [0.69,0.67,0.60,0.50,0.38,0.30,0.26,0.22,0.20,0.20,0.16,0.17,0.14, 0.12,0.13,0.10,0.11,0.09,0.08,0.09,0.17,0.09,0.10,0.12,0.07,0.07,0.065,0.07,0.07,0.07,0.065,0.06,0.06,0.06]
ospf_loss_acegat_sd = [0.01,0.02,0.04,0.05,0.05,0.05,0.05,0.05,0.04,0.04,0.04,0.04,0.04, 0.03,0.03,0.03,0.03,0.03,0.03,0.03,0.06,0.03,0.03,0.04,0.02,0.02,0.02,0.02,0.02,0.02,0.02,0.02,0.02,0.02]
ospf_loss_acegcn = [0.69,0.69,0.685,0.68,0.675,0.67,0.66,0.44,0.31,0.245,0.26,0.225,0.145, 0.29,0.135,0.145,0.12,0.28,0.11,0.11,0.10,0.18,0.12,0.11,0.12,0.11,0.095,0.10,0.27,0.095,0.095,0.095,0.21,0.085]
ospf_loss_acegcn_sd = [0.01,0.01,0.01,0.01,0.01,0.02,0.04,0.08,0.06,0.05,0.05,0.05,0.04, 0.12,0.04,0.04,0.04,0.12,0.03,0.03,0.04,0.08,0.03,0.03,0.03,0.03,0.03,0.03,0.25,0.04,0.03,0.03,0.15,0.03]

# ---------------------------------------------------------------- tables
PANELS = [
    [  # Local Preference
        [(lp_f1_gsid, lp_f1_gsid_sd), (lp_f1_lkpgat, lp_f1_lkpgat_sd), (lp_f1_lkpida, lp_f1_lkpida_sd), (lp_f1_acegat, lp_f1_acegat_sd), (lp_f1_acegcn, lp_f1_acegcn_sd)],
        [(lp_acc_gsid, lp_acc_gsid_sd), (lp_acc_lkpgat, lp_acc_lkpgat_sd), (lp_acc_lkpida, lp_acc_lkpida_sd), (lp_acc_acegat, lp_acc_acegat_sd), (lp_acc_acegcn, lp_acc_acegcn_sd)],
        [(lp_loss_gsid, lp_loss_gsid_sd), (lp_loss_lkpgat, lp_loss_lkpgat_sd), (lp_loss_lkpida, lp_loss_lkpida_sd), (lp_loss_acegat, lp_loss_acegat_sd), (lp_loss_acegcn, lp_loss_acegcn_sd)],
    ],
    [  # AS-Path Length
        [(asp_f1_gsid, asp_f1_gsid_sd), (asp_f1_lkpgat, asp_f1_lkpgat_sd), (asp_f1_lkpida, asp_f1_lkpida_sd), (asp_f1_acegat, asp_f1_acegat_sd), (asp_f1_acegcn, asp_f1_acegcn_sd)],
        [(asp_acc_gsid, asp_acc_gsid_sd), (asp_acc_lkpgat, asp_acc_lkpgat_sd), (asp_acc_lkpida, asp_acc_lkpida_sd), (asp_acc_acegat, asp_acc_acegat_sd), (asp_acc_acegcn, asp_acc_acegcn_sd)],
        [(asp_loss_gsid, asp_loss_gsid_sd), (asp_loss_lkpgat, asp_loss_lkpgat_sd), (asp_loss_lkpida, asp_loss_lkpida_sd), (asp_loss_acegat, asp_loss_acegat_sd), (asp_loss_acegcn, asp_loss_acegcn_sd)],
    ],
    [  # MED
        [(med_f1_gsid, med_f1_gsid_sd), (med_f1_lkpgat, med_f1_lkpgat_sd), (med_f1_lkpida, med_f1_lkpida_sd), (med_f1_acegat, med_f1_acegat_sd), (med_f1_acegcn, med_f1_acegcn_sd)],
        [(med_acc_gsid, med_acc_gsid_sd), (med_acc_lkpgat, med_acc_lkpgat_sd), (med_acc_lkpida, med_acc_lkpida_sd), (med_acc_acegat, med_acc_acegat_sd), (med_acc_acegcn, med_acc_acegcn_sd)],
        [(med_loss_gsid, med_loss_gsid_sd), (med_loss_lkpgat, med_loss_lkpgat_sd), (med_loss_lkpida, med_loss_lkpida_sd), (med_loss_acegat, med_loss_acegat_sd), (med_loss_acegcn, med_loss_acegcn_sd)],
    ],
    [  # OSPF Weight
        [(ospf_f1_gsid, ospf_f1_gsid_sd), (ospf_f1_lkpgat, ospf_f1_lkpgat_sd), (ospf_f1_lkpida, ospf_f1_lkpida_sd), (ospf_f1_acegat, ospf_f1_acegat_sd), (ospf_f1_acegcn, ospf_f1_acegcn_sd)],
        [(ospf_acc_gsid, ospf_acc_gsid_sd), (ospf_acc_lkpgat, ospf_acc_lkpgat_sd), (ospf_acc_lkpida, ospf_acc_lkpida_sd), (ospf_acc_acegat, ospf_acc_acegat_sd), (ospf_acc_acegcn, ospf_acc_acegcn_sd)],
        [(ospf_loss_gsid, ospf_loss_gsid_sd), (ospf_loss_lkpgat, ospf_loss_lkpgat_sd), (ospf_loss_lkpida, ospf_loss_lkpida_sd), (ospf_loss_acegat, ospf_loss_acegat_sd), (ospf_loss_acegcn, ospf_loss_acegcn_sd)],
    ],
]

for r, row in enumerate(PANELS):
    for c, panel in enumerate(row):
        for m, (mean, sd) in enumerate(panel):
            assert len(mean) == len(STEPS), (r, c, m, "mean", len(mean))
            assert len(sd) == len(STEPS), (r, c, m, "sd", len(sd))

# ---------------------------------------------------------------- style
COLORS = ["#ff4500", "#9b45bd", "#c48c0c", "#22a85a", "#2f88cc"]
DASHES = ["-", (0, (5.0, 2.2)), (0, (3.2, 1.3, 1.0, 1.3)), (0, (5.5, 1.8, 1.2, 1.8)), (0, (1.0, 1.4))]
WIDTHS = [1.6, 1.35, 1.3, 1.35, 1.35]
DRAW_ORDER = [1, 2, 3, 4, 0]
YLIMS = [(-0.016, 1.0), (0.55, 1.0), (0.03, 0.70)]
YTICKS = [F1_TICKS, ACC_TICKS, LOSS_TICKS]

sns.set_theme(style="ticks")
plt.rcParams["font.family"] = ["DejaVu Sans"]

fig = plt.figure(figsize=(10.4, 8.32), dpi=100)
gs = fig.add_gridspec(4, 3, left=0.0553, right=0.986, bottom=0.0445, top=0.8462,
                      wspace=0.198, hspace=0.305)

for r in range(4):
    for c in range(3):
        ax = fig.add_subplot(gs[r, c])
        panel = PANELS[r][c]
        for m in DRAW_ORDER:
            mean, sd = panel[m]
            lo = [a - b for a, b in zip(mean, sd)]
            hi = [a + b for a, b in zip(mean, sd)]
            ax.fill_between(STEPS, lo, hi, color=COLORS[m], alpha=0.17, lw=0,
                            zorder=1)
        for m in DRAW_ORDER:
            mean, sd = panel[m]
            df = pd.DataFrame({"step": STEPS, "value": mean})
            sns.lineplot(data=df, x="step", y="value", ax=ax, color=COLORS[m],
                         linestyle=DASHES[m], lw=WIDTHS[m], errorbar=None,
                         zorder=3 if m == 0 else 2)
        ax.set_xlim(-62.5, 1312.5)
        ax.set_ylim(*YLIMS[c])
        ax.set_xticks(X_TICKS)
        ax.set_yticks(YTICKS[c])
        ax.set_yticklabels([f"{v:.1f}" for v in YTICKS[c]])
        ax.grid(True, linestyle=":", linewidth=0.6, color="#c4c4c4")
        ax.tick_params(labelsize=6.6, length=3, width=0.7, pad=2,
                       colors="#222222")
        for s in ("left", "bottom"):
            ax.spines[s].set_linewidth(0.9)
            ax.spines[s].set_color("#333333")
        sns.despine(ax=ax)
        ax.set_xlabel(X_LABEL, fontsize=6.4, labelpad=1.5, color="#222222")
        if c == 0:
            ax.set_ylabel(ROW_LABELS[r], fontsize=7.8, color="#111111")
        else:
            ax.set_ylabel("")
        if r == 0:
            ax.set_title(COL_TITLES[c], fontsize=8.8, fontweight="bold", pad=4)

handles = [Line2D([0], [0], color=COLORS[m], linestyle=DASHES[m], lw=1.5)
           for m in range(5)]
fig.legend(handles, METHODS, loc="upper center", bbox_to_anchor=(0.507, 0.915),
           ncol=5, fontsize=9.4, frameon=True, handlelength=3.0,
           columnspacing=1.75, borderpad=0.45, handletextpad=0.7,
           edgecolor="#cccccc", fancybox=True)

fig.text(8 / 1040, 1 - 12 / 832, HEADER_LEFT, family="Liberation Serif",
         fontsize=10.1, va="center", ha="left", color="#111111")
fig.text(1032 / 1040, 1 - 12 / 832, HEADER_RIGHT, family="Liberation Serif",
         fontsize=10.1, va="center", ha="right", color="#111111")

fig.savefig("out.png", dpi=100, facecolor="white")
